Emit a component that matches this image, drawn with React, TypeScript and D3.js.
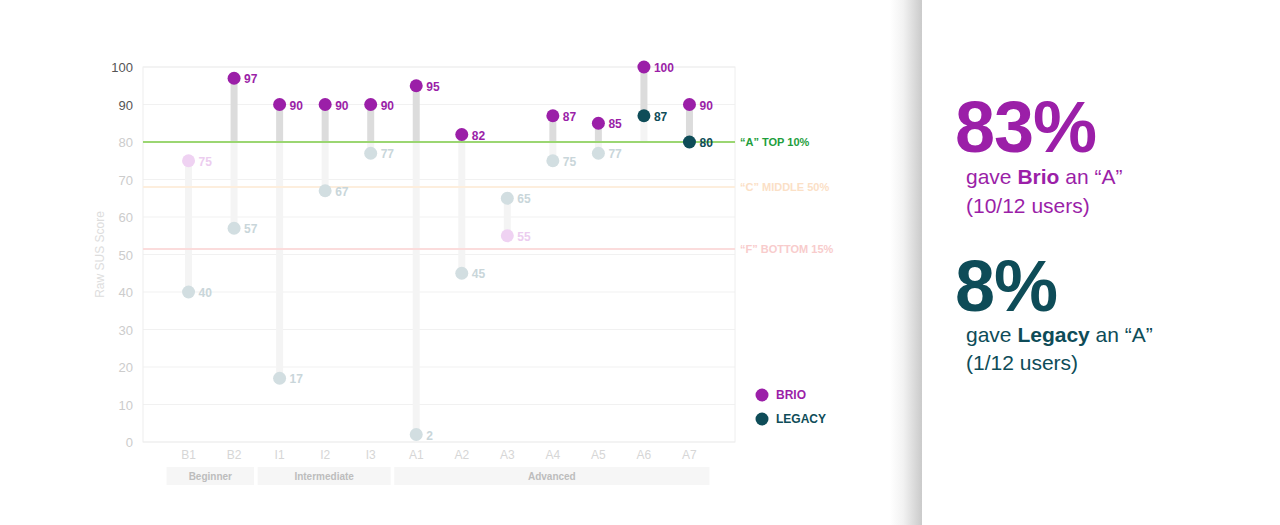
import * as d3 from "d3";

const users = ["B1", "B2", "I1", "I2", "I3", "A1", "A2", "A3", "A4", "A5", "A6", "A7"];
const brio = [75, 97, 90, 90, 90, 95, 82, 55, 87, 85, 100, 90];
const legacy = [40, 57, 17, 67, 77, 2, 45, 65, 75, 77, 87, 80];
const yTicks = [0, 10, 20, 30, 40, 50, 60, 70, 80, 90, 100];
const groups = [
  { name: "Beginner", from: "B1", to: "B2" },
  { name: "Intermediate", from: "I1", to: "I3" },
  { name: "Advanced", from: "A1", to: "A7" },
];
const refLines = [
  { value: 80, label: "\u201CA\u201D TOP 10%", line: "#9bd672", text: "#1e9e3c" },
  { value: 68, label: "\u201CC\u201D MIDDLE 50%", line: "#fdeedd", text: "#fbe0c6" },
  { value: 51.5, label: "\u201CF\u201D BOTTOM 15%", line: "#fbdcdc", text: "#f8cccc" },
];
const A_GRADE = 80;

const PURPLE = "#9b1fa8";
const TEAL = "#0e4c58";
const FONT = "'Liberation Sans', Arial, sans-serif";

export default function App() {
  const x = d3.scalePoint<string>().domain(users).range([143, 735]).padding(1);
  const y = d3.scaleLinear().domain([0, 100]).range([442, 67]);
  const left = 143, right = 735;

  return (
    <svg width={1280} height={525} style={{ position: "absolute", left: 0, top: 0, fontFamily: FONT }}>
      <defs>
        <linearGradient id="shadow" x1="0" x2="1">
          <stop offset="0" stopColor="#fff" />
          <stop offset="0.4" stopColor="#f2f2f2" />
          <stop offset="1" stopColor="#c8c8c8" />
        </linearGradient>
      </defs>
      <rect x={0} y={0} width={1280} height={525} fill="#fff" />
      <rect x={890} y={0} width={33} height={525} fill="url(#shadow)" />
      <rect x={922} y={0} width={358} height={525} fill="#fff" />

      {/* grid */}
      {yTicks.map((t) => (
        <g key={t}>
          <line x1={left} x2={right} y1={y(t)} y2={y(t)} stroke="#f1f1f1" />
          <text x={133} y={y(t) + 5} textAnchor="end" fontSize={13} fill={t >= 90 ? "#555" : "#ccc"}>{t}</text>
        </g>
      ))}
      <rect x={left} y={y(100)} width={right - left} height={y(0) - y(100)} fill="none" stroke="#eee" />
      <text transform={`translate(104,${y(50)}) rotate(-90)`} textAnchor="middle" fontSize={12} fill="#ddd">Raw SUS Score</text>

      {/* stems */}
      {users.map((u, i) => {
        const hi = Math.max(brio[i], legacy[i]);
        const lo = Math.min(brio[i], legacy[i]);
        const cx = x(u)!;
        return (
          <g key={u}>
            <line x1={cx} x2={cx} y1={y(Math.min(hi, A_GRADE))} y2={y(lo)} stroke="#f4f4f4" strokeWidth={7} />
            {hi > A_GRADE && (
              <line x1={cx} x2={cx} y1={y(hi)} y2={y(Math.max(lo, A_GRADE))} stroke="#dcdcdc" strokeWidth={7} />
            )}
          </g>
        );
      })}

      {/* reference lines */}
      {refLines.map((r) => (
        <g key={r.label}>
          <line x1={left} x2={right} y1={y(r.value)} y2={y(r.value)} stroke={r.line} strokeWidth={2} />
          <text x={740} y={y(r.value) + 4} fontSize={11} fontWeight="bold" fill={r.text}>{r.label}</text>
        </g>
      ))}

      {/* points */}
      {users.map((u, i) => {
        const cx = x(u)!;
        const lOk = legacy[i] >= A_GRADE;
        const bOk = brio[i] >= A_GRADE;
        return (
          <g key={u} fontSize={12} fontWeight="bold">
            <circle cx={cx} cy={y(legacy[i])} r={6.5} fill={lOk ? TEAL : "#d2dee1"} />
            <text x={cx + 10} y={y(legacy[i]) + 5} fill={lOk ? TEAL : "#c9d6da"}>{legacy[i]}</text>
            <circle cx={cx} cy={y(brio[i])} r={6.5} fill={bOk ? PURPLE : "#efd2f2"} />
            <text x={cx + 10} y={y(brio[i]) + 5} fill={bOk ? PURPLE : "#eccdef"}>{brio[i]}</text>
          </g>
        );
      })}

      {/* x axis */}
      {users.map((u) => (
        <text key={u} x={x(u)!} y={459} textAnchor="middle" fontSize={12} fill="#d6d6d6">{u}</text>
      ))}
      {groups.map((g) => {
        const x0 = x(g.from)! - 22;
        const x1 = x(g.to)! + 20;
        return (
          <g key={g.name}>
            <rect x={x0} y={467} width={x1 - x0} height={18} fill="#f6f6f6" />
            <text x={(x0 + x1) / 2} y={480} textAnchor="middle" fontSize={10} fontWeight="bold" fill="#bdbdbd">{g.name}</text>
          </g>
        );
      })}

      {/* legend */}
      <circle cx={762} cy={395} r={6.5} fill={PURPLE} />
      <text x={776} y={399} fontSize={12} fontWeight="bold" fill={PURPLE}>BRIO</text>
      <circle cx={762} cy={419} r={6.5} fill={TEAL} />
      <text x={776} y={423} fontSize={12} fontWeight="bold" fill={TEAL}>LEGACY</text>

      {/* summary */}
      <text x={955} y={152} fontSize={72} fontWeight="bold" fill={PURPLE} letterSpacing={-1}>83%</text>
      <text x={966} y={184} fontSize={21} fill={PURPLE}>gave <tspan fontWeight="bold">Brio</tspan> an “A”</text>
      <text x={966} y={213} fontSize={21} fill={PURPLE}>(10/12 users)</text>
      <text x={955} y={311} fontSize={72} fontWeight="bold" fill={TEAL} letterSpacing={-1}>8%</text>
      <text x={966} y={342} fontSize={21} fill={TEAL}>gave <tspan fontWeight="bold">Legacy</tspan> an “A”</text>
      <text x={966} y={370} fontSize={21} fill={TEAL}>(1/12 users)</text>
    </svg>
  );
}
